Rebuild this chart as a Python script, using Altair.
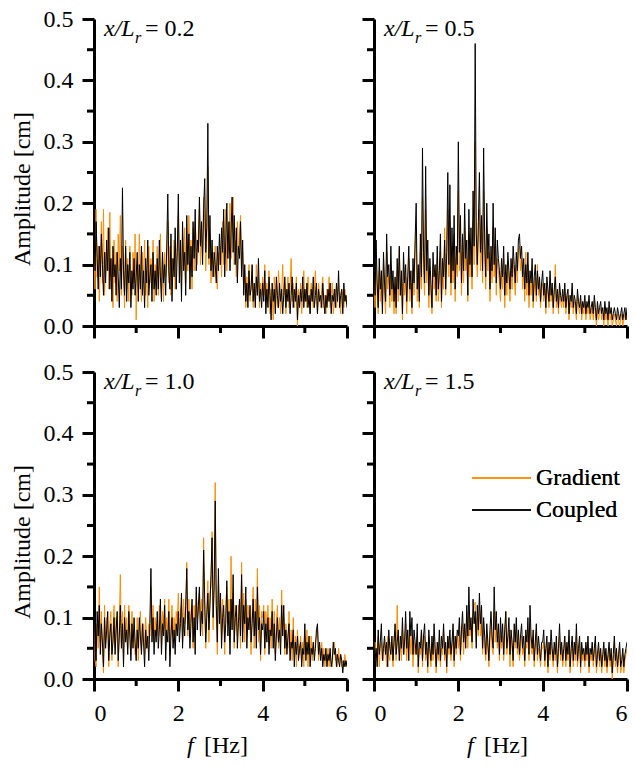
import altair as alt
import pandas as pd

STEP = 0.025  # frequency resolution of the spectra [Hz]
PANEL_LABELS = ["0.2", "0.5", "1.0", "1.5"]
SERIES = ["Gradient", "Coupled"]
X_MAJOR = [0, 2, 4, 6]
X_MINOR = [1, 3, 5]
Y_MAJOR = [0.0, 0.1, 0.2, 0.3, 0.4, 0.5]
Y_MINOR = [0.05, 0.15, 0.25, 0.35, 0.45]

# ---- x/Lr = 0.2 ----
GRAD_02 = [0.12, 0.06, 0.19, 0.08, 0.13, 0.04, 0.10, 0.17, 0.07, 0.19, 0.05, 0.12, 0.09, 0.16, 0.06, 0.185, 0.08, 0.11, 0.03, 0.14,
           0.07, 0.12, 0.04, 0.15, 0.09, 0.18, 0.05, 0.13, 0.08, 0.03, 0.14, 0.06, 0.11, 0.04, 0.13, 0.08, 0.05, 0.12, 0.07, 0.15,
           0.01, 0.10, 0.06, 0.15, 0.08, 0.04, 0.12, 0.07, 0.14, 0.05, 0.09, 0.03, 0.13, 0.07, 0.11, 0.06, 0.14, 0.04, 0.10, 0.08,
           0.13, 0.05, 0.09, 0.15, 0.06, 0.11, 0.04, 0.12, 0.08, 0.10, 0.17, 0.07, 0.13, 0.05, 0.11, 0.09, 0.14, 0.06, 0.10, 0.13,
           0.18, 0.08, 0.12, 0.06, 0.15, 0.10, 0.16, 0.07, 0.13, 0.09, 0.18, 0.11, 0.14, 0.06, 0.16, 0.09, 0.17, 0.12, 0.10, 0.15,
           0.19, 0.10, 0.15, 0.12, 0.21, 0.17, 0.09, 0.14, 0.26, 0.10, 0.15, 0.07, 0.12, 0.10, 0.08, 0.13, 0.09, 0.06, 0.12, 0.10,
           0.13, 0.08, 0.17, 0.10, 0.15, 0.19, 0.09, 0.14, 0.12, 0.20, 0.11, 0.16, 0.21, 0.10, 0.14, 0.08, 0.17, 0.12, 0.15, 0.18,
           0.10, 0.12, 0.06, 0.09, 0.03, 0.08, 0.05, 0.10, 0.04, 0.07, 0.09, 0.03, 0.06, 0.04, 0.10, 0.05, 0.08, 0.03, 0.07, 0.05,
           0.08, 0.05, 0.10, 0.03, 0.07, 0.04, 0.09, 0.02, 0.06, 0.05, 0.01, 0.08, 0.04, 0.07, 0.03, 0.09, 0.06, 0.02, 0.05, 0.10,
           0.04, 0.07, 0.02, 0.05, 0.08, 0.03, 0.06, 0.11, 0.04, 0.07, 0.03, 0.05, 0.08, 0.00, 0.06, 0.04, 0.07, 0.02, 0.05, 0.09,
           0.04, 0.06, 0.03, 0.08, 0.05, 0.02, 0.07, 0.05, 0.03, 0.06, 0.09, 0.04, 0.02, 0.07, 0.05, 0.03, 0.06, 0.08, 0.03, 0.05,
           0.02, 0.06, 0.04, 0.08, 0.03, 0.05, 0.07, 0.02, 0.04, 0.06, 0.03, 0.05, 0.07, 0.04, 0.02, 0.06, 0.05, 0.03, 0.06, 0.04,
           0.05]
COUP_02 = [0.15, 0.09, 0.17, 0.11, 0.06, 0.13, 0.08, 0.15, 0.10, 0.05, 0.12, 0.07, 0.14, 0.09, 0.16, 0.06, 0.11, 0.04, 0.13, 0.08,
           0.10, 0.05, 0.12, 0.08, 0.03, 0.11, 0.06, 0.225, 0.09, 0.05, 0.13, 0.04, 0.10, 0.07, 0.12, 0.03, 0.09, 0.06, 0.11, 0.05,
           0.08, 0.12, 0.04, 0.10, 0.06, 0.13, 0.05, 0.09, 0.03, 0.11, 0.07, 0.14, 0.05, 0.08, 0.10, 0.04, 0.12, 0.06, 0.09, 0.05,
           0.11, 0.06, 0.14, 0.08, 0.04, 0.12, 0.07, 0.10, 0.05, 0.13, 0.215, 0.09, 0.06, 0.15, 0.04, 0.11, 0.08, 0.16, 0.06, 0.12,
           0.215, 0.07, 0.14, 0.04, 0.17, 0.09, 0.12, 0.05, 0.18, 0.10, 0.15, 0.06, 0.13, 0.08, 0.17, 0.11, 0.19, 0.09, 0.14, 0.12,
           0.21, 0.13, 0.17, 0.10, 0.19, 0.24, 0.12, 0.16, 0.33, 0.11, 0.18, 0.09, 0.14, 0.08, 0.12, 0.10, 0.07, 0.13, 0.09, 0.15,
           0.10, 0.16, 0.12, 0.19, 0.08, 0.14, 0.20, 0.11, 0.17, 0.09, 0.15, 0.21, 0.12, 0.18, 0.10, 0.16, 0.07, 0.13, 0.11, 0.17,
           0.08, 0.14, 0.05, 0.10, 0.04, 0.07, 0.03, 0.09, 0.05, 0.06, 0.10, 0.04, 0.07, 0.03, 0.08, 0.05, 0.11, 0.04, 0.06, 0.03,
           0.07, 0.04, 0.09, 0.02, 0.06, 0.03, 0.08, 0.05, 0.01, 0.07, 0.04, 0.06, 0.02, 0.08, 0.05, 0.03, 0.07, 0.04, 0.06, 0.02,
           0.05, 0.08, 0.03, 0.06, 0.04, 0.07, 0.02, 0.05, 0.08, 0.03, 0.06, 0.04, 0.07, 0.01, 0.05, 0.03, 0.06, 0.04, 0.08, 0.03,
           0.06, 0.04, 0.07, 0.03, 0.05, 0.02, 0.06, 0.04, 0.08, 0.03, 0.05, 0.07, 0.02, 0.06, 0.04, 0.05, 0.03, 0.07, 0.04, 0.02,
           0.05, 0.03, 0.06, 0.04, 0.07, 0.02, 0.05, 0.04, 0.06, 0.03, 0.07, 0.04, 0.09, 0.03, 0.05, 0.06, 0.02, 0.07, 0.04, 0.05,
           0.03]

# ---- x/Lr = 0.5 ----
GRAD_05 = [0.08, 0.03, 0.11, 0.05, 0.02, 0.09, 0.04, 0.07, 0.03, 0.10, 0.05, 0.02, 0.12, 0.06, 0.08, 0.03, 0.10, 0.04, 0.07, 0.02,
           0.06, 0.02, 0.09, 0.04, 0.125, 0.05, 0.07, 0.01, 0.10, 0.05, 0.08, 0.02, 0.06, 0.11, 0.04, 0.07, 0.02, 0.09, 0.05, 0.12,
           0.16, 0.04, 0.08, 0.03, 0.12, 0.06, 0.21, 0.09, 0.05, 0.19, 0.07, 0.11, 0.03, 0.09, 0.05, 0.02, 0.10, 0.06, 0.08, 0.04,
           0.11, 0.04, 0.07, 0.12, 0.03, 0.09, 0.06, 0.16, 0.05, 0.10, 0.19, 0.08, 0.17, 0.05, 0.13, 0.07, 0.15, 0.04, 0.11, 0.08,
           0.22, 0.09, 0.14, 0.05, 0.12, 0.07, 0.16, 0.09, 0.11, 0.04, 0.15, 0.08, 0.13, 0.06, 0.17, 0.10, 0.30, 0.12, 0.08, 0.14,
           0.19, 0.09, 0.15, 0.07, 0.22, 0.11, 0.06, 0.16, 0.09, 0.12, 0.04, 0.10, 0.07, 0.16, 0.08, 0.13, 0.05, 0.11, 0.09, 0.07,
           0.04, 0.09, 0.06, 0.11, 0.03, 0.08, 0.05, 0.10, 0.07, 0.04, 0.09, 0.06, 0.11, 0.08, 0.05, 0.10, 0.07, 0.12, 0.13, 0.09,
           0.11, 0.06, 0.09, 0.04, 0.12, 0.05, 0.10, 0.03, 0.07, 0.05, 0.09, 0.03, 0.06, 0.08, 0.04, 0.10, 0.05, 0.07, 0.03, 0.06,
           0.07, 0.04, 0.06, 0.02, 0.07, 0.05, 0.03, 0.08, 0.04, 0.06, 0.02, 0.05, 0.10, 0.03, 0.05, 0.02, 0.06, 0.04, 0.03, 0.05,
           0.03, 0.06, 0.02, 0.04, 0.05, 0.01, 0.04, 0.03, 0.06, 0.02, 0.04, 0.03, 0.01, 0.05, 0.03, 0.02, 0.04, 0.01, 0.03, 0.02,
           0.04, 0.01, 0.03, 0.02, 0.04, 0.01, 0.02, 0.03, 0.01, 0.04, 0.02, 0.00, 0.03, 0.01, 0.02, 0.03, 0.01, 0.02, 0.00, 0.03,
           0.01, 0.02, 0.00, 0.03, 0.01, 0.02, 0.00, 0.01, 0.02, 0.01, 0.00, 0.02, 0.01, 0.00, 0.01, 0.02, 0.00, 0.01, 0.02, 0.01,
           0.02]
COUP_05 = [0.10, 0.05, 0.14, 0.07, 0.03, 0.11, 0.06, 0.09, 0.02, 0.12, 0.07, 0.04, 0.15, 0.08, 0.10, 0.05, 0.13, 0.06, 0.09, 0.04,
           0.08, 0.03, 0.11, 0.06, 0.13, 0.05, 0.09, 0.02, 0.12, 0.07, 0.10, 0.04, 0.08, 0.13, 0.06, 0.09, 0.03, 0.11, 0.07, 0.14,
           0.20, 0.06, 0.10, 0.04, 0.15, 0.08, 0.29, 0.12, 0.07, 0.26, 0.09, 0.14, 0.05, 0.11, 0.07, 0.03, 0.12, 0.08, 0.10, 0.05,
           0.13, 0.06, 0.09, 0.15, 0.04, 0.11, 0.08, 0.14, 0.06, 0.12, 0.25, 0.10, 0.23, 0.07, 0.16, 0.09, 0.18, 0.06, 0.13, 0.10,
           0.30, 0.12, 0.18, 0.07, 0.15, 0.09, 0.20, 0.11, 0.14, 0.05, 0.19, 0.10, 0.16, 0.08, 0.22, 0.13, 0.46, 0.15, 0.10, 0.17,
           0.25, 0.12, 0.18, 0.09, 0.29, 0.14, 0.08, 0.20, 0.11, 0.15, 0.06, 0.13, 0.09, 0.20, 0.10, 0.16, 0.07, 0.14, 0.11, 0.09,
           0.06, 0.11, 0.08, 0.13, 0.05, 0.10, 0.07, 0.12, 0.09, 0.06, 0.11, 0.08, 0.13, 0.10, 0.07, 0.12, 0.09, 0.14, 0.15, 0.11,
           0.13, 0.08, 0.11, 0.06, 0.10, 0.07, 0.12, 0.05, 0.09, 0.07, 0.11, 0.04, 0.08, 0.10, 0.05, 0.09, 0.06, 0.08, 0.04, 0.07,
           0.09, 0.05, 0.07, 0.03, 0.08, 0.06, 0.04, 0.09, 0.05, 0.07, 0.03, 0.06, 0.08, 0.04, 0.06, 0.03, 0.07, 0.05, 0.04, 0.06,
           0.04, 0.07, 0.03, 0.05, 0.06, 0.02, 0.05, 0.04, 0.07, 0.03, 0.05, 0.04, 0.02, 0.06, 0.04, 0.03, 0.05, 0.02, 0.04, 0.03,
           0.05, 0.02, 0.04, 0.03, 0.05, 0.02, 0.03, 0.04, 0.02, 0.05, 0.03, 0.01, 0.04, 0.02, 0.03, 0.04, 0.02, 0.03, 0.01, 0.04,
           0.02, 0.03, 0.01, 0.04, 0.02, 0.03, 0.01, 0.02, 0.03, 0.02, 0.01, 0.03, 0.02, 0.01, 0.02, 0.03, 0.01, 0.02, 0.03, 0.01,
           0.03]

# ---- x/Lr = 1.0 ----
GRAD_10 = [0.10, 0.03, 0.02, 0.09, 0.05, 0.15, 0.06, 0.11, 0.04, 0.01, 0.12, 0.06, 0.10, 0.08, 0.02, 0.09, 0.11, 0.03, 0.08, 0.12,
           0.05, 0.10, 0.07, 0.02, 0.09, 0.17, 0.06, 0.11, 0.03, 0.12, 0.07, 0.10, 0.05, 0.12, 0.09, 0.04, 0.11, 0.06, 0.08, 0.04,
           0.05, 0.10, 0.03, 0.08, 0.11, 0.05, 0.07, 0.09, 0.04, 0.10, 0.07, 0.05, 0.09, 0.07, 0.15, 0.08, 0.12, 0.06, 0.10, 0.07,
           0.09, 0.07, 0.12, 0.10, 0.05, 0.11, 0.08, 0.13, 0.06, 0.10, 0.08, 0.13, 0.04, 0.09, 0.12, 0.07, 0.10, 0.06, 0.11, 0.09,
           0.14, 0.08, 0.11, 0.12, 0.06, 0.13, 0.09, 0.10, 0.19, 0.07, 0.13, 0.08, 0.11, 0.12, 0.05, 0.12, 0.07, 0.14, 0.10, 0.11,
           0.14, 0.09, 0.13, 0.07, 0.23, 0.11, 0.05, 0.12, 0.16, 0.06, 0.14, 0.15, 0.24, 0.08, 0.17, 0.32, 0.10, 0.04, 0.15, 0.11,
           0.12, 0.07, 0.13, 0.10, 0.04, 0.12, 0.15, 0.09, 0.13, 0.06, 0.20, 0.10, 0.14, 0.05, 0.12, 0.11, 0.07, 0.12, 0.10, 0.05,
           0.19, 0.08, 0.14, 0.06, 0.13, 0.07, 0.12, 0.10, 0.09, 0.04, 0.11, 0.15, 0.05, 0.13, 0.07, 0.18, 0.06, 0.12, 0.03, 0.11,
           0.10, 0.12, 0.04, 0.11, 0.08, 0.12, 0.06, 0.10, 0.05, 0.13, 0.07, 0.11, 0.04, 0.09, 0.12, 0.05, 0.10, 0.06, 0.145, 0.08,
           0.10, 0.04, 0.09, 0.06, 0.05, 0.11, 0.04, 0.08, 0.03, 0.10, 0.04, 0.07, 0.02, 0.08, 0.05, 0.04, 0.07, 0.03, 0.06, 0.02,
           0.07, 0.04, 0.08, 0.02, 0.06, 0.04, 0.07, 0.03, 0.05, 0.04, 0.06, 0.07, 0.08, 0.03, 0.05, 0.04, 0.06, 0.03, 0.05, 0.02,
           0.04, 0.03, 0.05, 0.02, 0.04, 0.03, 0.02, 0.05, 0.06, 0.03, 0.04, 0.02, 0.05, 0.03, 0.04, 0.02, 0.03, 0.02, 0.04, 0.02,
           0.03]
COUP_10 = [0.15, 0.05, 0.03, 0.11, 0.07, 0.12, 0.04, 0.09, 0.06, 0.02, 0.10, 0.05, 0.08, 0.11, 0.03, 0.07, 0.09, 0.04, 0.06, 0.10,
           0.04, 0.08, 0.11, 0.03, 0.07, 0.12, 0.05, 0.09, 0.02, 0.10, 0.06, 0.08, 0.04, 0.11, 0.07, 0.03, 0.09, 0.05, 0.10, 0.06,
           0.03, 0.08, 0.05, 0.10, 0.07, 0.04, 0.09, 0.06, 0.02, 0.08, 0.05, 0.07, 0.03, 0.09, 0.18, 0.06, 0.10, 0.04, 0.08, 0.06,
           0.11, 0.05, 0.08, 0.13, 0.04, 0.09, 0.07, 0.12, 0.03, 0.08, 0.06, 0.11, 0.02, 0.07, 0.10, 0.05, 0.08, 0.04, 0.09, 0.07,
           0.11, 0.06, 0.09, 0.14, 0.05, 0.10, 0.07, 0.12, 0.18, 0.08, 0.11, 0.05, 0.09, 0.13, 0.06, 0.10, 0.04, 0.15, 0.08, 0.12,
           0.15, 0.07, 0.11, 0.09, 0.21, 0.13, 0.06, 0.10, 0.14, 0.08, 0.12, 0.17, 0.23, 0.10, 0.15, 0.29, 0.12, 0.06, 0.18, 0.09,
           0.14, 0.05, 0.10, 0.12, 0.06, 0.09, 0.16, 0.07, 0.11, 0.04, 0.13, 0.08, 0.17, 0.06, 0.10, 0.12, 0.05, 0.09, 0.13, 0.07,
           0.17, 0.06, 0.12, 0.09, 0.15, 0.05, 0.10, 0.08, 0.12, 0.06, 0.09, 0.13, 0.07, 0.11, 0.05, 0.15, 0.08, 0.10, 0.04, 0.09,
           0.08, 0.11, 0.05, 0.09, 0.06, 0.10, 0.04, 0.08, 0.07, 0.11, 0.05, 0.09, 0.03, 0.07, 0.10, 0.06, 0.08, 0.04, 0.12, 0.07,
           0.12, 0.05, 0.08, 0.04, 0.07, 0.09, 0.03, 0.06, 0.05, 0.08, 0.02, 0.06, 0.04, 0.07, 0.03, 0.05, 0.06, 0.02, 0.05, 0.04,
           0.09, 0.03, 0.06, 0.04, 0.07, 0.02, 0.05, 0.04, 0.06, 0.03, 0.05, 0.08, 0.09, 0.04, 0.06, 0.03, 0.05, 0.02, 0.04, 0.03,
           0.05, 0.02, 0.04, 0.03, 0.05, 0.02, 0.03, 0.06, 0.04, 0.05, 0.02, 0.04, 0.03, 0.02, 0.04, 0.03, 0.01, 0.03, 0.02, 0.03,
           0.02]

# ---- x/Lr = 1.5 ----
GRAD_15 = [0.04, 0.06, 0.03, 0.05, 0.07, 0.02, 0.05, 0.06, 0.04, 0.03, 0.06, 0.05, 0.02, 0.07, 0.04, 0.03, 0.06, 0.05, 0.02, 0.07,
           0.06, 0.03, 0.12, 0.05, 0.04, 0.06, 0.03, 0.08, 0.05, 0.04, 0.09, 0.03, 0.06, 0.05, 0.08, 0.04, 0.07, 0.02, 0.06, 0.04,
           0.05, 0.07, 0.01, 0.05, 0.04, 0.08, 0.02, 0.06, 0.07, 0.03, 0.05, 0.01, 0.07, 0.04, 0.02, 0.06, 0.03, 0.07, 0.04, 0.01,
           0.05, 0.03, 0.06, 0.02, 0.05, 0.04, 0.08, 0.03, 0.05, 0.01, 0.07, 0.04, 0.06, 0.03, 0.05, 0.08, 0.02, 0.06, 0.04, 0.07,
           0.05, 0.08, 0.03, 0.07, 0.09, 0.04, 0.08, 0.06, 0.11, 0.05, 0.11, 0.07, 0.09, 0.05, 0.10, 0.12, 0.125, 0.06, 0.10, 0.07,
           0.12, 0.07, 0.10, 0.04, 0.08, 0.05, 0.03, 0.07, 0.05, 0.02, 0.06, 0.09, 0.05, 0.04, 0.11, 0.06, 0.09, 0.05, 0.07, 0.03,
           0.08, 0.05, 0.07, 0.03, 0.06, 0.11, 0.04, 0.06, 0.08, 0.02, 0.07, 0.05, 0.02, 0.08, 0.05, 0.09, 0.04, 0.06, 0.03, 0.05,
           0.07, 0.04, 0.05, 0.02, 0.06, 0.05, 0.08, 0.03, 0.09, 0.05, 0.04, 0.07, 0.02, 0.05, 0.08, 0.03, 0.05, 0.04, 0.02, 0.05,
           0.05, 0.06, 0.02, 0.04, 0.06, 0.01, 0.05, 0.03, 0.06, 0.04, 0.02, 0.05, 0.03, 0.06, 0.01, 0.04, 0.07, 0.03, 0.05, 0.02,
           0.04, 0.06, 0.02, 0.05, 0.03, 0.07, 0.01, 0.04, 0.06, 0.02, 0.05, 0.03, 0.07, 0.02, 0.04, 0.06, 0.01, 0.05, 0.03, 0.04,
           0.02, 0.05, 0.03, 0.06, 0.01, 0.04, 0.03, 0.05, 0.02, 0.04, 0.06, 0.01, 0.03, 0.05, 0.02, 0.04, 0.01, 0.03, 0.05, 0.02,
           0.04, 0.01, 0.03, 0.05, 0.02, 0.04, 0.00, 0.03, 0.06, 0.02, 0.04, 0.01, 0.03, 0.05, 0.01, 0.02, 0.04, 0.01, 0.03, 0.04,
           0.05]
COUP_15 = [0.06, 0.03, 0.05, 0.02, 0.08, 0.04, 0.06, 0.09, 0.03, 0.05, 0.07, 0.04, 0.06, 0.02, 0.08, 0.05, 0.04, 0.07, 0.03, 0.06,
           0.09, 0.04, 0.06, 0.08, 0.03, 0.07, 0.05, 0.10, 0.04, 0.06, 0.11, 0.05, 0.08, 0.03, 0.11, 0.07, 0.10, 0.04, 0.08, 0.06,
           0.04, 0.09, 0.02, 0.06, 0.05, 0.08, 0.03, 0.07, 0.09, 0.04, 0.06, 0.02, 0.08, 0.05, 0.03, 0.07, 0.04, 0.09, 0.05, 0.02,
           0.06, 0.04, 0.08, 0.03, 0.07, 0.05, 0.09, 0.04, 0.06, 0.02, 0.07, 0.05, 0.08, 0.04, 0.06, 0.09, 0.03, 0.07, 0.05, 0.08,
           0.07, 0.10, 0.04, 0.08, 0.11, 0.06, 0.09, 0.05, 0.12, 0.07, 0.15, 0.08, 0.10, 0.06, 0.13, 0.09, 0.11, 0.05, 0.12, 0.08,
           0.14, 0.09, 0.12, 0.05, 0.10, 0.07, 0.04, 0.09, 0.06, 0.03, 0.08, 0.11, 0.07, 0.05, 0.15, 0.08, 0.11, 0.06, 0.09, 0.04,
           0.10, 0.06, 0.09, 0.04, 0.08, 0.11, 0.05, 0.07, 0.10, 0.04, 0.08, 0.06, 0.03, 0.09, 0.06, 0.10, 0.05, 0.08, 0.04, 0.07,
           0.09, 0.05, 0.07, 0.03, 0.08, 0.06, 0.10, 0.04, 0.12, 0.07, 0.05, 0.08, 0.03, 0.06, 0.09, 0.04, 0.07, 0.05, 0.03, 0.06,
           0.06, 0.08, 0.03, 0.05, 0.07, 0.02, 0.06, 0.04, 0.08, 0.05, 0.03, 0.06, 0.04, 0.07, 0.02, 0.05, 0.09, 0.04, 0.06, 0.03,
           0.05, 0.07, 0.03, 0.06, 0.04, 0.08, 0.02, 0.05, 0.07, 0.03, 0.06, 0.04, 0.09, 0.03, 0.05, 0.07, 0.02, 0.06, 0.04, 0.05,
           0.03, 0.06, 0.04, 0.07, 0.02, 0.05, 0.04, 0.06, 0.03, 0.05, 0.07, 0.02, 0.04, 0.06, 0.03, 0.05, 0.02, 0.04, 0.06, 0.03,
           0.05, 0.02, 0.04, 0.06, 0.03, 0.05, 0.01, 0.04, 0.07, 0.03, 0.05, 0.02, 0.04, 0.06, 0.02, 0.03, 0.05, 0.02, 0.04, 0.05,
           0.06]

FONT = "Liberation Serif"
ORANGE = "#FF8C00"
W, H = 253, 307
FS = 24


def axis_common():
    return dict(
        domainColor="black", domainWidth=3, tickColor="black", tickWidth=3,
        tickSize=12, labelFont=FONT, labelFontSize=FS, labelColor="black",
        labelOverlap=False, grid=False, titleFont=FONT, titleFontSize=FS,
        titleFontWeight="normal", titleColor="black",
    )


def y_axis(show):
    kw = axis_common()
    kw["values"] = Y_MAJOR
    if show:
        kw.update(format=".1f", labelPadding=9, titlePadding=9, titleY=H / 2 + 16)
    else:
        kw.update(labels=False)
    return alt.Axis(**kw)


def x_axis(show):
    kw = axis_common()
    kw["values"] = X_MAJOR
    if show:
        kw.update(format="d", labelPadding=10)
    else:
        kw.update(labels=False)
    return alt.Axis(**kw)


def series_frame(values):
    return pd.DataFrame({"f": [round(i * STEP, 3) for i in range(len(values))],
                         "amp": values})


def panel(label, grad, coup, left, bottom, legend=False):
    xs = alt.Scale(domain=[0, 6], nice=False, zero=False)
    ys = alt.Scale(domain=[0, 0.5], nice=False)
    ytitle = "Amplitude [cm]" if left else None
    xa, ya = x_axis(bottom), y_axis(left)
    x = alt.X("f:Q", scale=xs, axis=xa, title=None)
    y = alt.Y("amp:Q", scale=ys, axis=ya, title=ytitle)
    g = alt.Chart(series_frame(grad)).mark_line(
        color=ORANGE, strokeWidth=1, clip=True).encode(x=x, y=y)
    c = alt.Chart(series_frame(coup)).mark_line(
        color="black", strokeWidth=1, clip=True).encode(x=x, y=y)

    # minor ticks (outward, shorter than the major ones)
    ymin = alt.Chart(pd.DataFrame({"v": Y_MINOR})).mark_rule(
        color="black", strokeWidth=3).encode(
        y=alt.Y("v:Q", scale=ys, axis=ya, title=ytitle),
        x=alt.value(0), x2=alt.value(-7))
    xmin = alt.Chart(pd.DataFrame({"u": X_MINOR})).mark_rule(
        color="black", strokeWidth=3).encode(
        x=alt.X("u:Q", scale=xs, axis=xa, title=None),
        y=alt.value(H), y2=alt.value(H + 7))

    ann = alt.Chart(pd.DataFrame({"t": [label]}))
    t1 = ann.mark_text(align="left", baseline="alphabetic", font=FONT, fontSize=FS,
                       fontStyle="italic", color="black").encode(
        x=alt.value(10), y=alt.value(17), text=alt.value("x/L"))
    t2 = ann.mark_text(align="left", baseline="alphabetic", font=FONT, fontSize=16,
                       fontStyle="italic", color="black").encode(
        x=alt.value(41), y=alt.value(24), text=alt.value("r"))
    t3 = ann.mark_text(align="left", baseline="alphabetic", font=FONT, fontSize=FS,
                       color="black").encode(
        x=alt.value(51), y=alt.value(17), text=alt.value("= " + label))
    layers = [g, c, ymin, xmin, t1, t2, t3]

    if bottom:
        xt1 = ann.mark_text(align="left", baseline="middle", font=FONT, fontSize=FS,
                            fontStyle="italic", color="black").encode(
            x=alt.value(93), y=alt.value(H + 67), text=alt.value("f"))
        xt2 = ann.mark_text(align="left", baseline="middle", font=FONT, fontSize=FS,
                            color="black").encode(
            x=alt.value(110), y=alt.value(H + 67), text=alt.value("[Hz]"))
        layers += [xt1, xt2]

    if legend:
        leg = alt.Chart(pd.DataFrame({"s": SERIES}))
        for name, col, yy in [(SERIES[0], ORANGE, 106), (SERIES[1], "black", 138)]:
            layers.append(leg.mark_rule(color=col, strokeWidth=1.5).encode(
                x=alt.value(98), x2=alt.value(157), y=alt.value(yy)))
            layers.append(leg.mark_text(align="left", baseline="middle", font=FONT,
                                        fontSize=FS, color="black").encode(
                x=alt.value(162), y=alt.value(yy), text=alt.value(name)))

    return alt.layer(*layers).properties(width=W, height=H)


pA = panel(PANEL_LABELS[0], GRAD_02, COUP_02, True, False)
pB = panel(PANEL_LABELS[1], GRAD_05, COUP_05, False, False)
pC = panel(PANEL_LABELS[2], GRAD_10, COUP_10, True, True)
pD = panel(PANEL_LABELS[3], GRAD_15, COUP_15, False, True, legend=True)

chart = alt.concat(pA, pB, pC, pD, columns=2, bounds="flush",
                   spacing={"row": 46, "column": 27}).properties(
    padding={"left": 10, "top": 7, "right": 0, "bottom": 5},
).configure_view(stroke=None)

chart.save("out.html", embed_options={"renderer": "svg", "actions": False})
